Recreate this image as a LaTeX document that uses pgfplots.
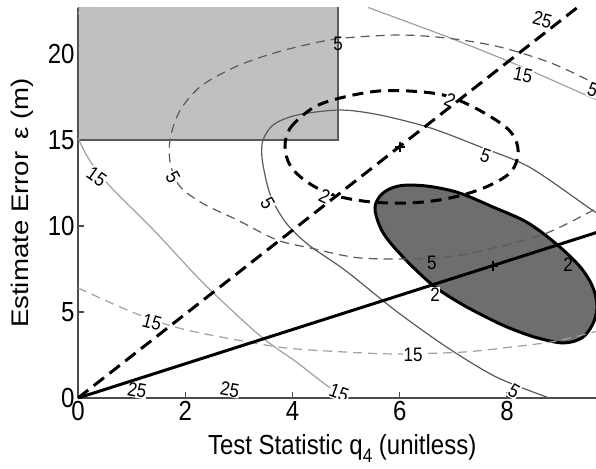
\documentclass[border=0pt]{standalone}
\usepackage{pgfplots}
\pgfplotsset{compat=1.18}
\usepackage{fontspec}
\setmainfont{Liberation Sans}
\definecolor{boxgray}{HTML}{C0C0C0}
\definecolor{ellgray}{HTML}{6E6E6E}
\definecolor{cfive}{HTML}{5A5A5A}
\definecolor{cfifteen}{HTML}{A0A0A0}
\tikzset{
  lab/.style={font=\fontsize{17}{17}\selectfont, inner sep=0.6pt, text=black},
  labw/.style={lab, fill=white},
}
\newcommand{\CL}[1]{\scalebox{1}[1.15]{#1}}
\begin{document}
\begin{tikzpicture}[x=1pt,y=1pt]
\useasboundingbox (-78,-70) rectangle (518,398);
\begin{axis}[
  at={(0,0)}, anchor=south west,
  scale only axis, width=518pt, height=390pt,
  xmin=0, xmax=9.66, ymin=0, ymax=22.67,
  axis x line*=bottom, axis y line*=left,
  axis line style={black!70, line width=1.1pt},
  xtick={0,2,4,6,8}, ytick={0,5,10,15,20},
  tick align=inside, major tick length=6pt,
  tick style={black!70, line width=1.1pt},
  tick label style={font=\fontsize{24}{24}\selectfont},
  /pgf/number format/assume math mode=true,
  xticklabel={\scalebox{1}[1.15]{\pgfmathprintnumber{\tick}}},
  yticklabel={\scalebox{1}[1.15]{\pgfmathprintnumber{\tick}}},
  xlabel={\scalebox{1}[1.15]{Test Statistic q\raisebox{-7pt}{\fontsize{17}{17}\selectfont 4} (unitless)}},
  ylabel={\scalebox{1.15}[1]{Estimate Error\, ε (m)}},
  label style={font=\fontsize{24}{24}\selectfont},
  xlabel style={at={(axis description cs:0.51,-0.1436)}, anchor=base},
  ylabel style={at={(axis description cs:-0.108,0.5)}, anchor=center},
]
% gray region
\addplot[fill=boxgray, draw=black!65, line width=1.2pt] coordinates {(0,23.5) (0,15) (4.85,15) (4.85,23.5)};
% filled ellipse (solid level 2)
\addplot[fill=ellgray, draw=black, line width=3pt, smooth cycle, tension=0.55] coordinates {
(5.54,10.9) (5.6,11.6) (5.75,12.05) (5.95,12.3) (6.2,12.38) (6.62,12.27) (7.13,11.9) (7.74,11.1)
(8.38,10.2) (8.94,8.9) (9.37,7.6) (9.6,6.45) (9.68,5.3) (9.6,4.3) (9.4,3.5) (9.05,3.2) (8.56,3.5)
(8.1,4.0) (7.74,4.5) (7.13,5.5) (6.6,6.6) (6.06,8.2) (5.69,9.6)};
% solid 15 lower
\addplot[cfifteen, line width=1.2pt, smooth] coordinates {
(0,15.1) (0.22,13.8) (0.6,12.3) (1.4,9.8) (2.33,6.7) (3.27,3.95) (3.7,2.9) (4.07,2.1) (4.68,0.64) (5.05,0)};
% solid 15 upper
\addplot[cfifteen, line width=1.2pt, smooth] coordinates {
(5.41,22.7) (6.94,20.93) (8.19,19.36) (9.55,17.5) (9.7,17.3)};
% solid 25 tiny
\addplot[cfifteen!70, line width=1.2pt] coordinates {(0,22.35) (0.2,22.7)};
% dashed 15
\addplot[cfifteen, line width=1.2pt, dash pattern=on 9pt off 6pt, smooth] coordinates {
(0,6.4) (0.78,5.3) (1.4,4.53) (2.03,3.95) (2.97,3.37) (3.9,2.9) (5.0,2.67) (5.93,2.56) (7.18,2.67) (8.1,2.97) (8.9,3.3) (9.7,3.9)};
% solid 5
\addplot[cfive, line width=1.2pt, smooth] coordinates {
(9.75,10.7) (9.6,10.9) (8.43,13.4) (7.5,14.6) (6.57,15.7) (5.63,16.45) (4.89,16.74) (4.09,16.45) (3.65,15.9) (3.45,15.0) (3.43,14.0)
(3.52,12.5) (3.64,11.4) (3.9,10.1) (4.3,8.9) (5.0,7.38) (5.93,5.06) (6.87,2.97) (7.8,1.22) (8.79,0)};
% dashed 5
\addplot[cfive, line width=1.2pt, dash pattern=on 9pt off 6pt, smooth] coordinates {
(9.75,18.1) (9.5,18.5) (8.8,19.5) (7.87,20.4) (6.94,20.9) (6.0,21.1) (4.89,20.9) (4.14,20.45) (3.5,19.9) (2.9,19.2) (2.28,18.1)
(1.9,16.7) (1.72,15.1) (1.72,13.65) (1.9,12.3) (2.33,11.3) (2.97,10.35) (3.7,9.2) (4.33,8.72) (5.26,8.14) (6.5,8.1) (7.13,8.3)
(7.87,8.8) (8.75,9.6) (9.6,10.9) (9.75,11.2)};
% thick dashed ellipse (dashed level 2)
\addplot[black, line width=3pt, dash pattern=on 11pt off 7pt, smooth cycle, tension=0.55] coordinates {
(3.86,14.6) (3.96,15.7) (4.38,16.86) (4.89,17.44) (5.63,17.85) (6.38,17.8) (6.94,17.5) (7.56,16.6) (8.06,15.5) (8.21,14.3)
(8.06,13.1) (7.56,12.2) (6.9,11.6) (6.2,11.34) (5.45,11.4) (4.76,11.8) (4.27,12.56) (3.96,13.5)};
% contour labels
\node[labw, rotate=-35] at (axis cs:0.35,12.85) {\CL{15}};
\node[labw, rotate=-20] at (axis cs:4.87,0.3) {\CL{15}};
\node[labw, rotate=-12] at (axis cs:8.3,18.8) {\CL{15}};
\node[labw, rotate=-15] at (axis cs:1.38,4.4) {\CL{15}};
\node[labw] at (axis cs:6.25,2.5) {\CL{15}};
\node[labw, rotate=-60] at (axis cs:1.77,12.85) {\CL{5}};
\node[lab] at (axis cs:4.85,20.6) {\CL{5}};
\node[labw, rotate=-20] at (axis cs:9.6,17.9) {\CL{5}};
\node[lab] at (axis cs:6.6,7.85) {\CL{5}};
\node[labw, rotate=-60] at (axis cs:3.54,11.3) {\CL{5}};
\node[labw, rotate=-20] at (axis cs:7.6,14.1) {\CL{5}};
\node[labw, rotate=-30] at (axis cs:8.13,0.4) {\CL{5}};
\node[labw, rotate=-25] at (axis cs:6.94,17.3) {\CL{2}};
\node[labw, rotate=-25] at (axis cs:4.6,11.75) {\CL{2}};
\node[labw] at (axis cs:6.66,6.0) {\CL{2}};
\node[lab] at (axis cs:9.14,7.73) {\CL{2}};
\node[labw, rotate=-15] at (axis cs:8.66,21.98) {\CL{25}};
\node[labw, rotate=-10] at (axis cs:1.1,0.45) {\CL{25}};
\node[labw, rotate=-10] at (axis cs:2.83,0.5) {\CL{25}};
% thick lines
\addplot[black, line width=3pt] coordinates {(0,0) (9.7,9.65)};
\addplot[black, line width=3pt, dash pattern=on 13pt off 7pt] coordinates {(0,0) (9.3,22.67)};
% centers
\addplot[black, only marks, mark=+, mark size=5pt, mark options={line width=2pt}] coordinates {(6.0,14.6) (7.74,7.67)};
\end{axis}
\end{tikzpicture}
\end{document}
